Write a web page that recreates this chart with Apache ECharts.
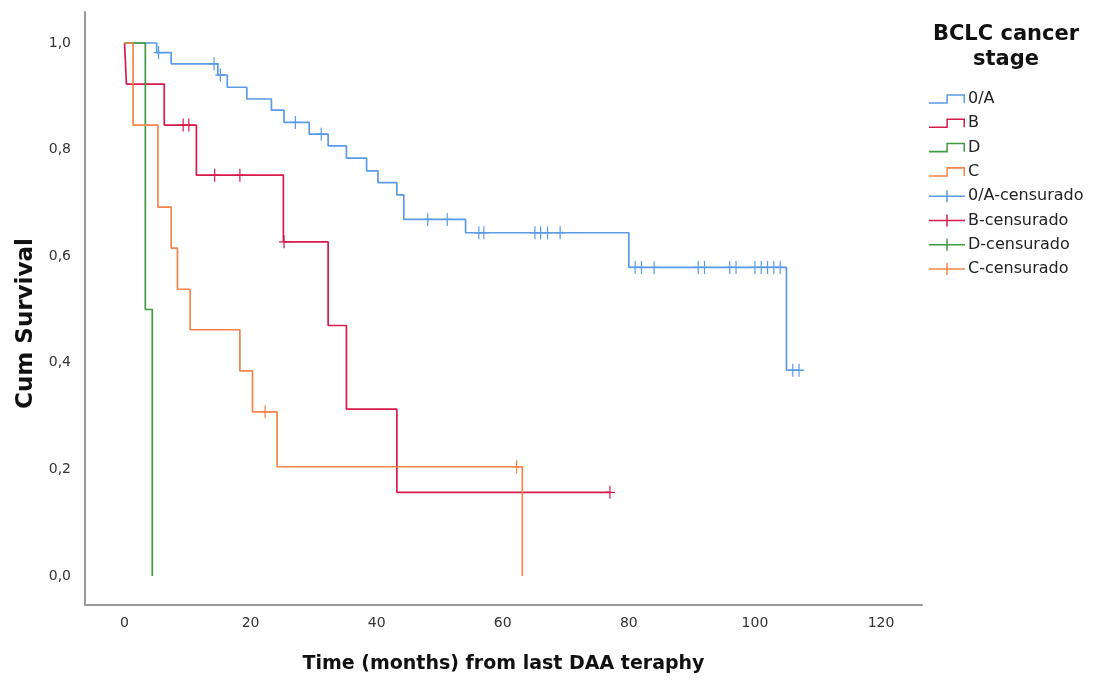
<!DOCTYPE html>
<html lang="en">
<head>
<meta charset="UTF-8">
<title>BCLC survival</title>
<script src="https://cdn.jsdelivr.net/npm/echarts@6/dist/echarts.min.js"></script>
<style>html,body{margin:0;padding:0;background:#fff}</style>
</head>
<body>
<div id="main" style="width:1093px;height:682px"></div>
<script>
// step curves: time of each drop and survival after it (last point = end of follow-up)
var timeOA = [0, 5.1, 7.4, 14.8, 16.3, 19.4, 23.3, 25.3, 29.3, 32.3, 35.2, 38.4, 40.2, 43.2, 44.3, 54.1, 80, 105, 107];
var survOA = [1, 0.982, 0.961, 0.94, 0.917, 0.895, 0.874, 0.851, 0.829, 0.807, 0.784, 0.76, 0.738, 0.715, 0.669, 0.644, 0.579, 0.386, 0.386];
var censOA = [5.4, 14.2, 15.2, 27.1, 31.2, 48.1, 51.2, 56.2, 57, 65.1, 66, 67.1, 69.1, 81, 82, 84, 91, 92, 96, 97, 100, 101, 102, 103, 104, 106, 107];

var timeB = [0, 0.3, 6.3, 11.4, 25.2, 32.3, 35.2, 43.2, 77];
var survB = [1, 0.923, 0.846, 0.752, 0.627, 0.47, 0.313, 0.157, 0.157];
var censB = [9.3, 10.2, 14.3, 18.3, 25.3, 77];

var timeD = [0, 3.3, 4.4];
var survD = [1, 0.5, 0];
var censD = [];

var timeC = [0, 1.35, 5.3, 7.4, 8.4, 10.4, 18.3, 20.3, 24.2, 63.1];
var survC = [1, 0.846, 0.692, 0.615, 0.538, 0.462, 0.385, 0.308, 0.205, 0];
var censC = [22.3, 62.2];

var stageNames = ['0/A', 'B', 'D', 'C'];
var stageColors = ['#5b9be6', '#d81b4a', '#3f993f', '#f5844a'];
var xTicks = [0, 20, 40, 60, 80, 100, 120];
var yTicks = [0, 0.2, 0.4, 0.6, 0.8, 1.0];

var curves = [
    {t: timeOA, s: survOA, c: censOA},
    {t: timeB, s: survB, c: censB},
    {t: timeD, s: survD, c: censD},
    {t: timeC, s: survC, c: censC}
];

function pairs(t, s) {
    var out = [];
    for (var i = 0; i < t.length; i++) out.push([t[i], s[i]]);
    return out;
}
// survival level of a curve at a censoring time
function levelAt(cv, x) {
    var v = cv.s[0];
    for (var i = 0; i < cv.t.length; i++) {
        if (cv.t[i] <= x) v = cv.s[i];
    }
    return v;
}

var plusPath = 'path://M-0.12,-1 H0.12 V-0.1 H1 V0.1 H0.12 V1 H-0.12 V0.1 H-1 V-0.1 H-0.12 Z';
var stepIcon = 'path://M0,8.25 H17.25 V0.25 H35.75 V9 H34.25 V1.75 H18.75 V9.75 H0 Z';
var censIcon = 'path://M0,5.25 H17.25 V0 H18.75 V5.25 H36 V6.75 H18.75 V12 H17.25 V6.75 H0 Z';

var series = [];
var legendData = [];
curves.forEach(function (cv, i) {
    series.push({
        name: stageNames[i],
        type: 'line',
        step: 'end',
        symbol: 'none',
        color: stageColors[i],
        lineStyle: {width: 1.7, color: stageColors[i]},
        data: pairs(cv.t, cv.s),
        z: 2
    });
    legendData.push({name: stageNames[i], icon: stepIcon});
});
curves.forEach(function (cv, i) {
    series.push({
        name: stageNames[i] + '-censurado',
        type: 'scatter',
        symbol: plusPath,
        symbolSize: [10, 13],
        color: stageColors[i],
        itemStyle: {color: stageColors[i], opacity: 1},
        data: cv.c.map(function (x) { return [x, levelAt(cv, x)]; }),
        z: 3
    });
    legendData.push({name: stageNames[i] + '-censurado', icon: censIcon});
});

var myChart = echarts.init(document.getElementById('main'));
var option = {
    backgroundColor: '#fff',
    animation: false,
    textStyle: {fontFamily: 'DejaVu Sans'},
    grid: {left: 85, right: 171, top: 12, bottom: 77},
    legend: {
        orient: 'vertical',
        left: 924,
        top: 86,
        itemWidth: 36,
        itemHeight: 12,
        itemGap: 8.3,
        selectedMode: false,
        textStyle: {fontSize: 16, color: '#222', fontFamily: 'DejaVu Sans', padding: [0, 0, 0, -2]},
        data: legendData
    },
    graphic: [{
        type: 'text',
        x: 1006,
        y: 22,
        style: {
            text: 'BCLC cancer\nstage',
            textAlign: 'center',
            font: 'bold 21px "DejaVu Sans"',
            lineHeight: 25,
            fill: '#111'
        }
    }],
    xAxis: {
        type: 'value',
        min: -6.27,
        max: 126.5,
        name: 'Time (months) from last DAA teraphy',
        nameLocation: 'middle',
        nameGap: 50,
        nameTextStyle: {fontSize: 19, fontWeight: 'bold', color: '#111'},
        axisLine: {onZero: false, lineStyle: {color: '#999', width: 2}},
        axisTick: {show: false},
        splitLine: {show: false},
        axisLabel: {customValues: xTicks, fontSize: 14, color: '#333', margin: 11}
    },
    yAxis: {
        type: 'value',
        min: -0.0544,
        max: 1.0582,
        name: 'Cum Survival',
        nameLocation: 'middle',
        nameRotate: 90,
        nameGap: 46,
        nameTextStyle: {fontSize: 23, fontWeight: 'bold', color: '#111', padding: [0, 30, 0, 0]},
        axisLine: {onZero: false, lineStyle: {color: '#999', width: 2}},
        axisTick: {show: false},
        splitLine: {show: false},
        axisLabel: {
            customValues: yTicks,
            fontSize: 14,
            color: '#333',
            margin: 14,
            formatter: function (v) { return v.toFixed(1).replace('.', ','); }
        }
    },
    series: series
};
myChart.setOption(option);
</script>
</body>
</html>
